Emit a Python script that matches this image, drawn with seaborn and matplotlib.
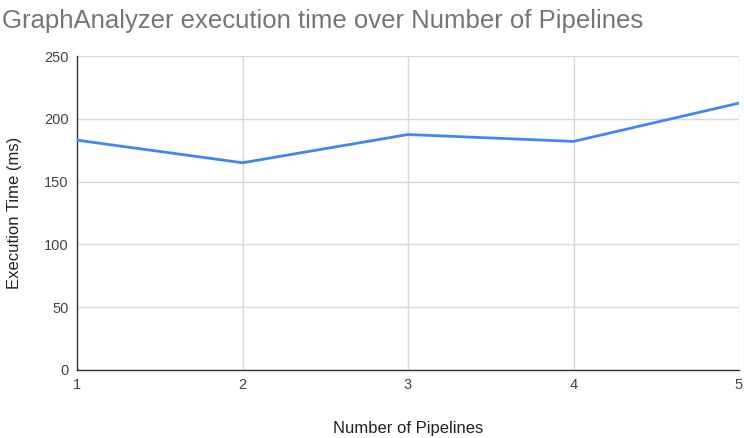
import matplotlib
matplotlib.use("Agg")
import matplotlib.pyplot as plt
import seaborn as sns
import pandas as pd

pipelines = [1, 2, 3, 4, 5]
exec_time_ms = [183, 165, 187.5, 182, 212.5]
y_ticks = [0, 50, 100, 150, 200, 250]

sns.set_theme(style="white")
plt.rcParams["font.family"] = ["Liberation Sans", "DejaVu Sans"]

df = pd.DataFrame({"Number of Pipelines": pipelines, "Execution Time (ms)": exec_time_ms})

fig = plt.figure(figsize=(7.44, 4.38), dpi=100)
ax = fig.add_axes([0.1035, 0.1553, 0.8898, 0.7168])

sns.lineplot(data=df, x="Number of Pipelines", y="Execution Time (ms)",
             color="#4285F4", linewidth=2, ax=ax, zorder=3)

ax.set_xlim(1, 5)
ax.set_ylim(0, 250)
ax.set_xticks(pipelines)
ax.set_yticks(y_ticks)
ax.grid(True, color="#d9d9d9", linewidth=1)
ax.set_axisbelow(True)
for side in ["top", "right"]:
    ax.spines[side].set_visible(False)
for side in ["left", "bottom"]:
    ax.spines[side].set_color("#333333")
    ax.spines[side].set_linewidth(1)
ax.tick_params(axis="both", length=0, labelsize=10.5, colors="#444444", pad=6)
ax.set_xlabel("Number of Pipelines", fontsize=12, color="#222222", labelpad=21)
ax.set_ylabel("Execution Time (ms)", fontsize=12, color="#222222", labelpad=16)

fig.text(0.003, 0.953, "GraphAnalyzer execution time over Number of Pipelines",
         fontsize=18.5, color="#757575", ha="left", va="center")

fig.savefig("out.png", dpi=100, facecolor="white")
